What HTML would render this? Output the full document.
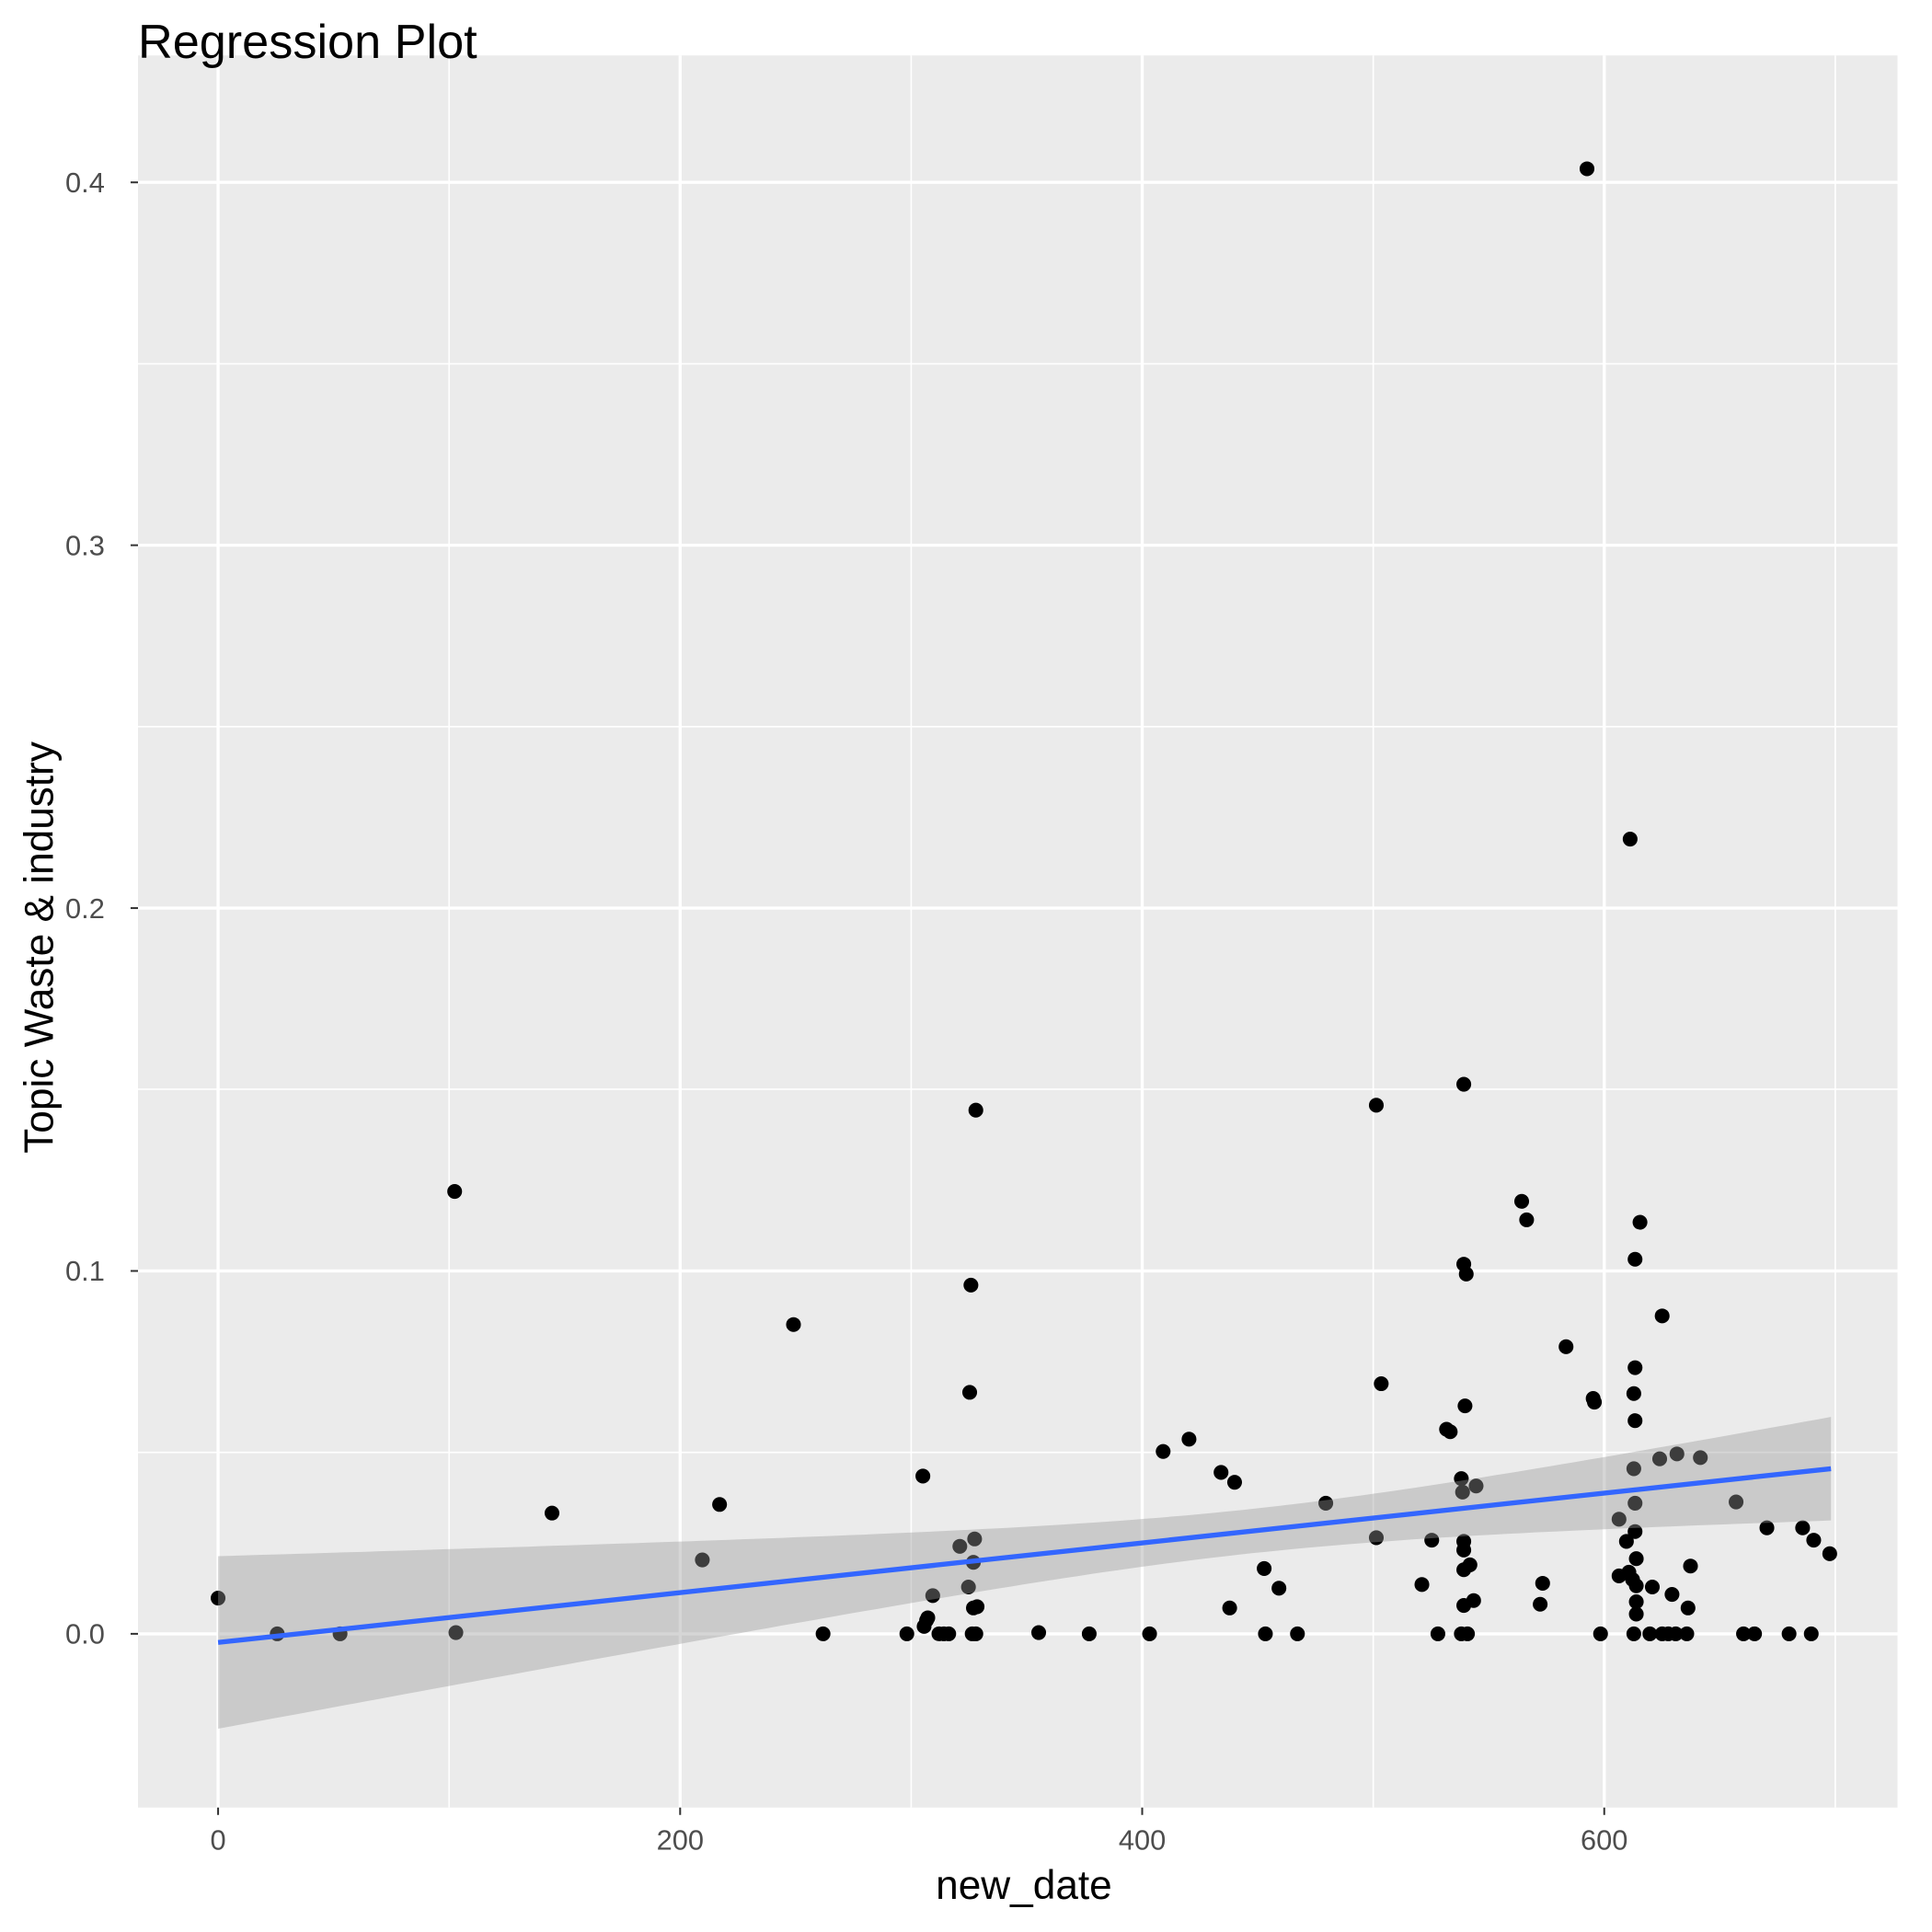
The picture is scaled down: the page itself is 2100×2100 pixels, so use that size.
<!DOCTYPE html>
<html><head><meta charset="utf-8"><style>
html,body{margin:0;padding:0;background:#fff}
svg{display:block}
text{font-family:"Liberation Sans",Arial,sans-serif}
</style></head><body>
<svg id="s" width="2100" height="2100" viewBox="0 0 1568 1568" xmlns="http://www.w3.org/2000/svg">
<rect x="0" y="0" width="1568" height="1568" fill="#fff"/>
<rect x="112" y="45" width="1428" height="1422" fill="#ebebeb"/>
<g stroke="#fff" stroke-width="1.2">
<line x1="364.5" y1="45" x2="364.5" y2="1467"/><line x1="739.5" y1="45" x2="739.5" y2="1467"/>
<line x1="1114.5" y1="45" x2="1114.5" y2="1467"/><line x1="1489.5" y1="45" x2="1489.5" y2="1467"/>
<line x1="112" y1="1178.75" x2="1540" y2="1178.75"/><line x1="112" y1="884" x2="1540" y2="884"/>
<line x1="112" y1="589.75" x2="1540" y2="589.75"/><line x1="112" y1="295.25" x2="1540" y2="295.25"/>
</g>
<g stroke="#fff" stroke-width="2.5">
<line x1="177" y1="45" x2="177" y2="1467"/><line x1="552" y1="45" x2="552" y2="1467"/>
<line x1="927" y1="45" x2="927" y2="1467"/><line x1="1302" y1="45" x2="1302" y2="1467"/>
<line x1="112" y1="1326" x2="1540" y2="1326"/><line x1="112" y1="1031.5" x2="1540" y2="1031.5"/>
<line x1="112" y1="737" x2="1540" y2="737"/><line x1="112" y1="442.5" x2="1540" y2="442.5"/>
<line x1="112" y1="148" x2="1540" y2="148"/>
</g>
<g id="pts" fill="#000"></g>
<polygon id="rib" fill="#999" fill-opacity="0.4"/>
<line x1="177" y1="1333" x2="1486" y2="1192" stroke="#3366ff" stroke-width="4"/>
<g stroke="#333" stroke-width="1.5">
<line x1="177" y1="1467" x2="177" y2="1473"/><line x1="552" y1="1467" x2="552" y2="1473"/>
<line x1="927" y1="1467" x2="927" y2="1473"/><line x1="1302" y1="1467" x2="1302" y2="1473"/>
<line x1="106" y1="1326" x2="112" y2="1326"/><line x1="106" y1="1031.5" x2="112" y2="1031.5"/>
<line x1="106" y1="737" x2="112" y2="737"/><line x1="106" y1="442.5" x2="112" y2="442.5"/>
<line x1="106" y1="148" x2="112" y2="148"/>
</g>
<g fill="#4d4d4d" font-size="23">
<text x="177" y="1501" text-anchor="middle">0</text><text x="552" y="1501" text-anchor="middle">200</text>
<text x="927" y="1501" text-anchor="middle">400</text><text x="1302" y="1501" text-anchor="middle">600</text>
<text x="85" y="1334" text-anchor="end">0.0</text><text x="85" y="1039.5" text-anchor="end">0.1</text>
<text x="85" y="745" text-anchor="end">0.2</text><text x="85" y="450.5" text-anchor="end">0.3</text>
<text x="85" y="156" text-anchor="end">0.4</text>
</g>
<text x="831" y="1541" text-anchor="middle" font-size="33">new_date</text>
<text transform="translate(43,769) rotate(-90)" text-anchor="middle" font-size="33">Topic Waste &amp; industry</text>
<text x="112" y="47" font-size="39">Regression Plot</text>
</svg>
<script>
var P=[[177,1297],[225,1326],[276,1326],[369,967],[370,1325],[448,1228],[570,1266],[584,1221],[644,1075],[668,1326],[736,1326],[749,1198],[750,1320],[752,1315],[753,1313],[757,1295],[762,1326],[766,1326],[770,1326],[779,1255],[786,1288],[787,1130],[788,1043],[789,1326],[790,1305],[790,1268],[791,1249],[792,1326],[793,1304],[792,901],[843,1325],[884,1326],[933,1326],[944,1178],[965,1168],[991,1195],[998,1305],[1002,1203],[1026,1273],[1027,1326],[1038,1289],[1053,1326],[1076,1220],[1117,897],[1117,1248],[1121,1123],[1154,1286],[1162,1250],[1167,1326],[1174,1160],[1177,1162],[1186,1200],[1187,1211],[1188,880],[1188,1026],[1189,1141],[1188,1251],[1188,1258],[1188,1274],[1188,1303],[1186,1326],[1191,1326],[1190,1034],[1193,1270],[1196,1299],[1198,1206],[1235,975],[1239,990],[1250,1302],[1252,1285],[1271,1093],[1288,137],[1293,1135],[1294,1138],[1299,1326],[1314,1233],[1314,1279],[1320,1251],[1322,1276],[1323,681],[1325,1282],[1326,1131],[1326,1192],[1327,1022],[1327,1110],[1327,1153],[1327,1220],[1327,1243],[1328,1265],[1328,1287],[1328,1300],[1328,1310],[1326,1326],[1331,992],[1339,1326],[1341,1288],[1347,1184],[1349,1326],[1349,1068],[1354,1326],[1357,1294],[1360,1326],[1361,1180],[1370,1305],[1369,1326],[1372,1271],[1380,1183],[1409,1219],[1415,1326],[1424,1326],[1434,1240],[1452,1326],[1463,1240],[1470,1326],[1472,1250],[1485,1261]];
var g=document.getElementById('pts'),h='';
P.forEach(function(p){h+='<circle cx="'+p[0]+'" cy="'+p[1]+'" r="6"/>';});
g.innerHTML=h;
var tp=[],bt=[];
for(var i=0;i<=120;i++){var xx=177+(1486-177)*i/120;var y=1333+(1192-1333)*(xx-177)/(1486-177);var w=Math.sqrt(324+0.00651*(xx-1015.6)*(xx-1015.6));tp.push(xx.toFixed(1)+','+(y-w).toFixed(1));bt.unshift(xx.toFixed(1)+','+(y+w).toFixed(1));}
document.getElementById('rib').setAttribute('points',tp.concat(bt).join(' '));
</script>
</body></html>
